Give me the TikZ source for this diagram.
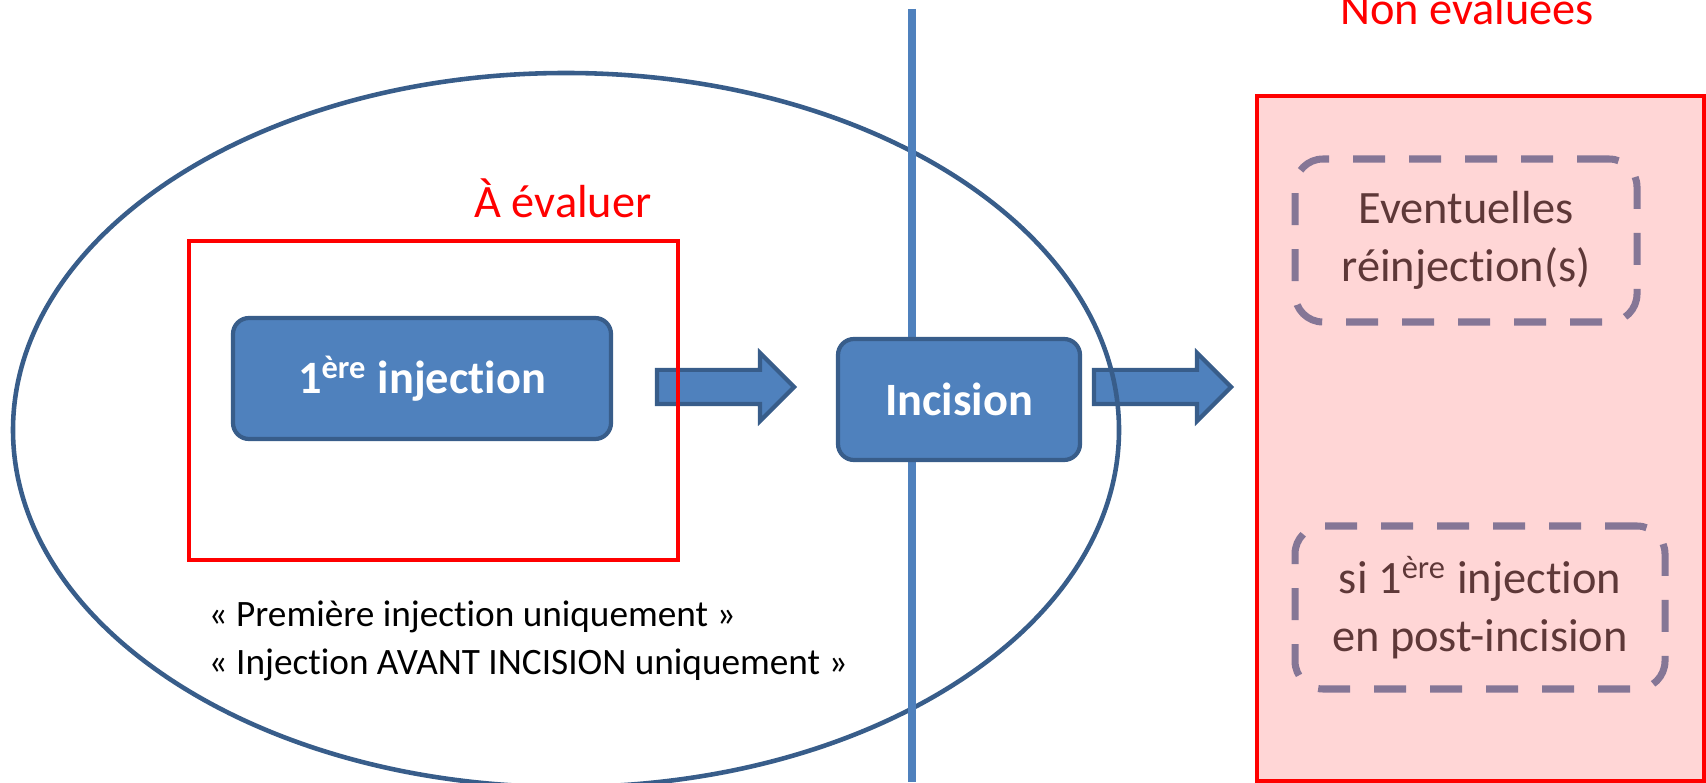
\documentclass[tikz,border=0pt]{standalone}
\usepackage{fontspec}
\setmainfont{Carlito}[Ligatures={NoCommon}]
\usetikzlibrary{shapes.arrows}
\definecolor{boxfill}{RGB}{79,129,189}
\definecolor{boxline}{RGB}{56,93,138}
\definecolor{pinkfill}{RGB}{255,214,214}
\definecolor{dashline}{RGB}{133,118,150}
\definecolor{dashtext}{RGB}{94,56,56}
\tikzset{
  bluebox/.style={draw=boxline, fill=boxfill, line width=1.2pt, rounded corners=0.16cm,
    minimum height=1.21cm, text=white, font=\fontsize{13.2}{15.8}\selectfont\bfseries},
  blockarrow/.style={single arrow, draw=boxline, fill=boxfill, line width=1.2pt, inner sep=0pt,
    text height=0.30cm, text depth=0pt, single arrow head extend=0.17cm,
    single arrow head indent=0pt, minimum height=1.37cm},
  dashbox/.style={draw=dashline, line width=2pt, dash pattern=on 0.32cm off 0.24cm,
    rounded corners=0.28cm, minimum height=1.63cm, text=dashtext, align=center,
    font=\fontsize{13.2}{16.4}\selectfont},
  redlabel/.style={text=red, anchor=base, inner sep=0pt, font=\fontsize{13.2}{15.8}\selectfont},
  notetext/.style={anchor=base west, inner sep=0pt, font=\fontsize{10.6}{12.7}\selectfont}
}
\begin{document}
\begin{tikzpicture}
\clip (0,0) rectangle (17.06,7.82);
\useasboundingbox (0,0) rectangle (17.06,7.82);
\draw[red, line width=1.4pt, fill=pinkfill] (12.57,0.01) rectangle (17.04,6.86);
\node[blockarrow] (arrA) at (7.17,3.95) {};
\node[blockarrow] (arrB) at (11.54,3.95) {};
\draw[boxline, line width=1.3pt] (5.66,3.52) ellipse [x radius=5.53, y radius=3.57];
\coordinate (cuttop) at (9.12,7.73);
\coordinate (cutbot) at (9.12,0);
\draw[boxfill, line width=2pt] (cuttop) -- (cutbot);
\draw[red, line width=1.4pt] (1.89,2.22) rectangle (6.78,5.41);
\node[bluebox, minimum width=3.78cm] (inj) at (4.22,4.035) {1\textsuperscript{ère} injection};
\node[bluebox, minimum width=2.42cm] (inc) at (9.59,3.825) {Incision};
\node[redlabel] (aeval) at (5.63,5.64) {À évaluer};
\node[redlabel] (noneval) at (14.67,7.57) {Non évaluées};
\node[dashbox, minimum width=3.42cm] (reinj) at (14.66,5.415) {Eventuelles\\réinjection(s)};
\node[dashbox, minimum width=3.70cm] (postinc) at (14.80,1.745) {si 1\textsuperscript{ère} injection\\en post-incision};
\node[notetext] (noteA) at (2.08,1.55) {« Première injection uniquement »};
\node[notetext] (noteB) at (2.08,1.08) {« Injection AVANT INCISION uniquement »};
\end{tikzpicture}
\end{document}
